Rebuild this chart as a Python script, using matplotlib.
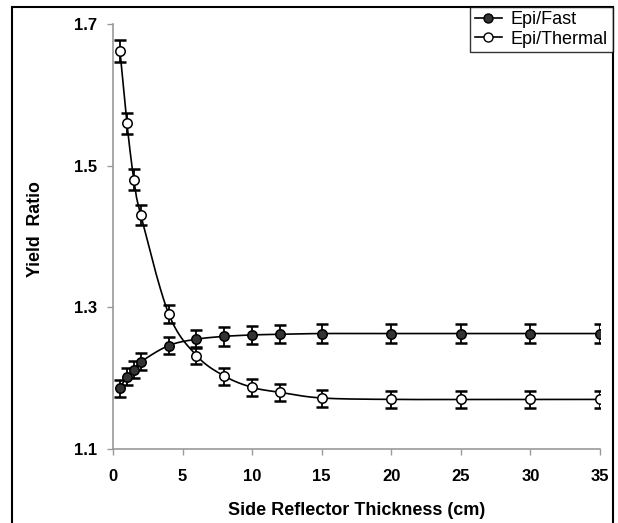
import numpy as np
import matplotlib
matplotlib.use("Agg")
import matplotlib.pyplot as plt
from matplotlib.patches import Rectangle
from matplotlib.lines import Line2D

# ---- data ----
thickness = [0.5, 1, 1.5, 2, 4, 6, 8, 10, 12, 15, 20, 25, 30, 35]
epi_fast = [1.186, 1.202, 1.212, 1.223, 1.246, 1.255, 1.259, 1.261, 1.262, 1.263, 1.263, 1.263, 1.263, 1.263]
epi_fast_err = [0.012, 0.012, 0.012, 0.012, 0.012, 0.013, 0.013, 0.013, 0.013, 0.013, 0.013, 0.013, 0.013, 0.013]
epi_thermal = [1.662, 1.560, 1.480, 1.430, 1.291, 1.232, 1.203, 1.187, 1.180, 1.172, 1.170, 1.170, 1.170, 1.170]
epi_thermal_err = [0.016, 0.015, 0.015, 0.014, 0.013, 0.012, 0.012, 0.012, 0.012, 0.012, 0.012, 0.012, 0.012, 0.012]
x_ticks = [0, 5, 10, 15, 20, 25, 30, 35]
y_ticks = [1.1, 1.3, 1.5, 1.7]
y_tick_labels = ["1.1", "1.3", "1.5", "1.7"]
series_names = ["Epi/Fast", "Epi/Thermal"]

plt.rcParams['font.family'] = ['Liberation Sans', 'DejaVu Sans']

W, H = 618, 523
AX_L, AX_R, AX_T, AX_B = 113, 600, 24, 449
fig = plt.figure(figsize=(W / 100, H / 100), dpi=100)
ax = fig.add_axes([AX_L / W, 1 - AX_B / H, (AX_R - AX_L) / W, (AX_B - AX_T) / H])
XMIN, XMAX, YMIN, YMAX = 0, 35, 1.1, 1.7
ax.set_xlim(XMIN, XMAX)
ax.set_ylim(YMIN, YMAX)
PW, PH = AX_R - AX_L, AX_B - AX_T


def smooth(xs, ys, n=30):
    # Excel-like smoothed line (Catmull-Rom Bezier) in screen-proportional space
    xs = np.asarray(xs, float)
    ys = np.asarray(ys, float)
    sx = (xs - XMIN) / (XMAX - XMIN) * PW
    sy = (ys - YMIN) / (YMAX - YMIN) * PH
    P = np.column_stack([sx, sy])
    out = [P[0]]
    for i in range(len(P) - 1):
        p0 = P[i - 1] if i > 0 else P[i]
        p1 = P[i]
        p2 = P[i + 1]
        p3 = P[i + 2] if i + 2 < len(P) else P[i + 1]
        c1 = p1 + (p2 - p0) / 6
        c2 = p2 - (p3 - p1) / 6
        t = np.linspace(0, 1, n)[1:, None]
        seg = ((1 - t) ** 3) * p1 + 3 * ((1 - t) ** 2) * t * c1 + 3 * (1 - t) * t ** 2 * c2 + t ** 3 * p2
        out.extend(seg)
    out = np.array(out)
    return out[:, 0] / PW * (XMAX - XMIN) + XMIN, out[:, 1] / PH * (YMAX - YMIN) + YMIN


for ys, err, face in [(epi_fast, epi_fast_err, '#333333'), (epi_thermal, epi_thermal_err, 'white')]:
    lx, ly = smooth(thickness, ys)
    ax.plot(lx, ly, color='black', lw=1.2, zorder=2)
    ax.errorbar(thickness, ys, yerr=err, fmt='none', ecolor='black', elinewidth=1.3,
                capsize=4.5, capthick=1.8, zorder=3)
    ax.plot(thickness, ys, linestyle='none', marker='o', markersize=6.8,
            markerfacecolor=face, markeredgecolor='black', markeredgewidth=1.1, zorder=4)

for s in ['top', 'right']:
    ax.spines[s].set_visible(False)
for s in ['left', 'bottom']:
    ax.spines[s].set_color('#999999')
    ax.spines[s].set_linewidth(1.2)

ax.set_xticks(x_ticks)
ax.set_xticklabels([str(t) for t in x_ticks])
ax.set_yticks(y_ticks)
ax.set_yticklabels(y_tick_labels)
ax.tick_params(axis='both', direction='out', length=4, width=1, color='#999999',
               labelsize=12)
ax.tick_params(axis='y', pad=7.5)
ax.tick_params(axis='x', pad=10.5)
for lab in ax.get_xticklabels() + ax.get_yticklabels():
    lab.set_fontweight('bold')

ax.set_xlabel("Side Reflector Thickness (cm)", fontsize=13, fontweight='bold', labelpad=13)
fig.text(35 / W, 1 - 229 / H, "Yield  Ratio", rotation=90, ha='center', va='center',
         fontsize=12.8, fontweight='bold')

# legend
handles = [
    Line2D([0], [0], color='black', lw=1.2, marker='o', markersize=6.5,
           markerfacecolor='#333333', markeredgecolor='black'),
    Line2D([0], [0], color='black', lw=1.2, marker='o', markersize=6.5,
           markerfacecolor='white', markeredgecolor='black'),
]
leg = fig.legend(handles, series_names, loc='upper right',
                 bbox_to_anchor=(612.5 / W, 1 - 6.5 / H), fontsize=13,
                 frameon=True, fancybox=False, borderpad=0.25, handlelength=1.5,
                 handletextpad=0.5, labelspacing=0.15, borderaxespad=0)
leg.get_frame().set_edgecolor('black')
leg.get_frame().set_linewidth(1.0)

# figure border
fig.patches.append(Rectangle((12 / W, -0.05), (613 - 12) / W, 1.05 - 7 / H,
                             transform=fig.transFigure, fill=False, edgecolor='black',
                             linewidth=1.5, zorder=0))

fig.savefig("out.png", dpi=100)
